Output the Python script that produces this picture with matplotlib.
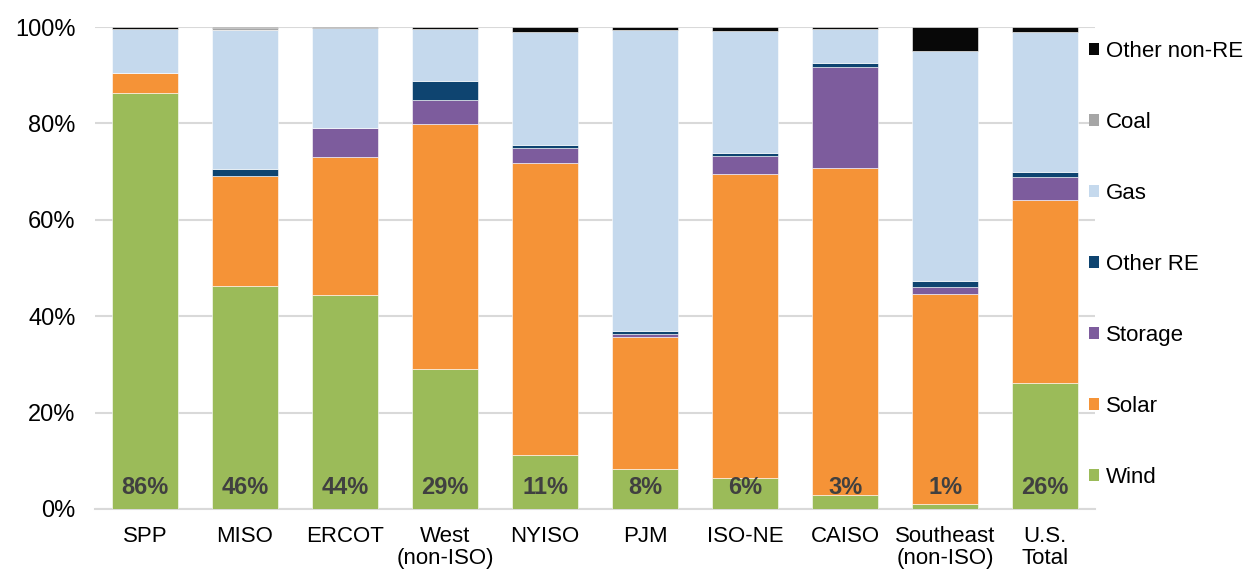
import numpy as np
import matplotlib
matplotlib.use('Agg')
import matplotlib.pyplot as plt
from matplotlib.patches import Patch

plt.rcParams['font.family'] = ['Liberation Sans', 'DejaVu Sans']

regions = ['SPP', 'MISO', 'ERCOT', 'West\n(non-ISO)', 'NYISO', 'PJM',
           'ISO-NE', 'CAISO', 'Southeast\n(non-ISO)', 'U.S.\nTotal']

# shares of capacity in queue, %
wind = [86.4, 46.3, 44.4, 29.0, 11.2, 8.4, 6.4, 2.9, 1.0, 26.1]
solar = [4.0, 22.7, 28.6, 50.9, 60.6, 27.3, 63.1, 67.8, 43.7, 38.0]
storage = [0.0, 0.0, 6.0, 5.0, 3.0, 0.6, 3.8, 21.0, 1.3, 4.8]
other_re = [0.0, 1.5, 0.0, 3.8, 0.8, 0.7, 0.5, 0.8, 1.4, 1.1]
gas = [9.1, 28.8, 20.7, 10.9, 23.4, 62.3, 25.4, 7.1, 47.7, 29.0]
coal = [0.0, 0.5, 0.0, 0.0, 0.0, 0.0, 0.0, 0.0, 0.0, 0.0]
other_nonre = [0.5, 0.2, 0.3, 0.4, 1.0, 0.7, 0.8, 0.4, 4.9, 1.0]

series = [
    ('Wind', wind, '#9BBB59'),
    ('Solar', solar, '#F59337'),
    ('Storage', storage, '#7D5C9D'),
    ('Other RE', other_re, '#0E4470'),
    ('Gas', gas, '#C5D9ED'),
    ('Coal', coal, '#A6A6A6'),
    ('Other non-RE', other_nonre, '#080808'),
]

fig = plt.figure(figsize=(12.43, 5.71), dpi=100)
ax = fig.add_axes([0.0764, 0.1086, 0.8046, 0.8441])

x = np.arange(len(regions))
bottom = np.zeros(len(regions))
for name, vals, color in series:
    vals = np.array(vals)
    ax.bar(x, vals, width=0.665, bottom=bottom, color=color,
           edgecolor='white', linewidth=0.4, zorder=3)
    bottom += vals

# wind share labels at the bottom of each bar
for xi, w in zip(x, wind):
    ax.text(xi, 4.4, f"{w:.0f}%", ha='center', va='center',
            fontsize=17, fontweight='bold', color='#404040', zorder=4)

ax.set_xlim(-0.5, len(regions) - 0.5)
ax.set_ylim(0, 100)
ax.set_yticks(np.arange(0, 101, 20))
ax.set_yticklabels([f"{v}%" for v in range(0, 101, 20)])
ax.set_xticks(x)
ax.set_xticklabels(regions, linespacing=1.1)
ax.tick_params(axis='y', length=0, pad=14, labelsize=17)
ax.tick_params(axis='x', length=0, pad=12, labelsize=16)
ax.grid(axis='y', color='#D9D9D9', linewidth=1.5, zorder=0)
for s in ['top', 'right', 'left']:
    ax.spines[s].set_visible(False)
ax.spines['bottom'].set_color('#D9D9D9')
ax.spines['bottom'].set_linewidth(1.5)

handles = [Patch(facecolor=c, label=n) for n, v, c in series][::-1]
ax.legend(handles=handles, loc='upper left', bbox_to_anchor=(0.985, 0.99),
          frameon=False, fontsize=16, handlelength=0.45, handleheight=0.45,
          handletextpad=0.3, labelspacing=2.25, borderaxespad=0.0)

fig.savefig('out.png', dpi=100)
